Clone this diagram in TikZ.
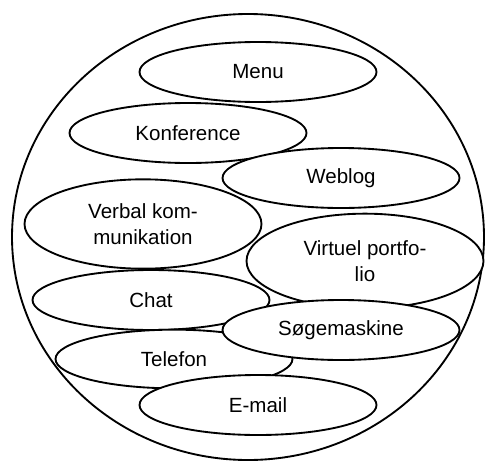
\documentclass[tikz,border=0pt]{standalone}
\usepackage{fontspec}
\setmainfont{Liberation Sans}
\usetikzlibrary{
	shapes.geometric,
	positioning
}

\begin{document}
\begin{tikzpicture}[
				x=0.75pt, y=-0.75pt,
				bubble/.style={
					ellipse, draw, fill=white, line width=1.4pt,
					minimum width=177.75pt, minimum height=45pt,
					inner sep=0pt, align=center,
					font=\fontsize{15.4}{20}\selectfont
				},
				bigbubble/.style={
					bubble, minimum height=67pt
				},
				ramme/.style={
					ellipse, draw, line width=1.4pt,
					minimum width=354pt, minimum height=334.5pt,
					inner sep=0pt
				},
				]
				\useasboundingbox (0,0) rectangle (486,461);
				
				\node[ramme] (omraade) at (248,237) {};
				
				%top
				\node[bubble] (menu) at (258,72) {Menu};
				\node[bubble] (konference) at (188,133) {Konference};
				\node[bubble] (weblog) at (341,178) {Weblog};
				
				%middle
				\node[bigbubble] (verbal) at (143,224) {Verbal kom-\\munikation};
				\node[bigbubble, minimum height=71pt] (portfolio) at (365,261) {Virtuel portfo-\\lio};
				\node[bubble] (chat) at (151,300) {Chat};
				
				%bottom
				\node[bubble, minimum height=44pt] (telefon) at (174,359) {Telefon};
				\node[bubble] (soegemaskine) at (341,330) {Søgemaskine};
				\node[bubble] (email) at (258,405) {E-mail};
\end{tikzpicture}
\end{document}
